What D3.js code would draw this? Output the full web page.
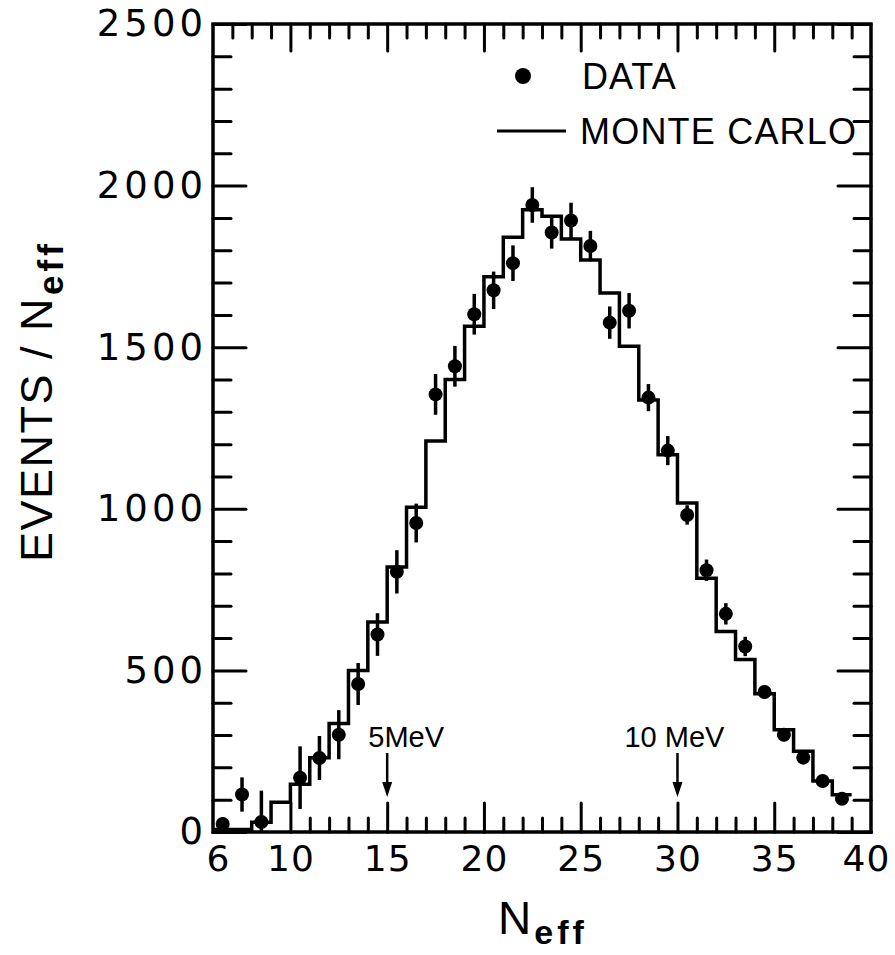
<!DOCTYPE html>
<meta charset="utf-8">

<!-- Load d3.js -->
<script src="https://d3js.org/d3.v7.min.js"></script>

<style>
  body { margin: 0; background: #fff; }
</style>

<svg id="neff_plot" width="895" height="955" style="background:#fff;"></svg>

<script>

// Monte Carlo histogram: left edge of each unit bin and its height
var mcEdges  = [6, 7, 8, 9, 10, 11, 12, 13, 14, 15, 16, 17, 18, 19, 20, 21, 22,
                23, 24, 25, 26, 27, 28, 29, 30, 31, 32, 33, 34, 35, 36, 37, 38];
var mcValues = [8, 8, 30, 92, 148, 230, 336, 500, 650, 820, 1005, 1210, 1400, 1565, 1718, 1840, 1925,
                1905, 1835, 1770, 1668, 1503, 1337, 1167, 1018, 785, 620, 534, 428, 316, 250, 158, 115];

// measured data: bin centre, events and error
var dataN      = [6.5, 7.5, 8.5, 10.5, 11.5, 12.5, 13.5, 14.5, 15.5, 16.5, 17.5, 18.5, 19.5, 20.5, 21.5, 22.5,
                  23.5, 24.5, 25.5, 26.5, 27.5, 28.5, 29.5, 30.5, 31.5, 32.5, 33.5, 34.5, 35.5, 36.5, 37.5, 38.5];
var dataValues = [25, 116, 31, 168, 229, 301, 458, 611, 805, 956, 1354, 1441, 1602, 1676, 1760, 1940,
                  1855, 1892, 1813, 1576, 1613, 1344, 1180, 981, 810, 675, 574, 433, 301, 230, 158, 103];
var dataErrors = [20, 53, 97, 97, 68, 76, 65, 66, 67, 60, 63, 63, 63, 58, 55, 55,
                  50, 55, 47, 50, 55, 42, 45, 30, 33, 33, 30, 20, 20, 15, 15, 12];

// tick labels
var xTickValues = [6, 10, 15, 20, 25, 30, 35, 40];
var yTickValues = [0, 500, 1000, 1500, 2000, 2500];

// energy marks on the N_eff axis
var markN      = [15, 30];
var markLabels = ["5MeV", "10 MeV"];

// set the dimensions and margins of the graph
var margin = {top: 24, right: 24, bottom: 123, left: 213};
var width = 895 - margin.left - margin.right,
    height = 955 - margin.top - margin.bottom;

var svg = d3.select("#neff_plot")
  .append("g")
  .attr("transform", "translate(" + margin.left + "," + margin.top + ")");

var x = d3.scaleLinear().domain([6, 40]).range([0, width]);
var y = d3.scaleLinear().domain([0, 2500]).range([height, 0]);

var numFont = "DejaVu Sans, sans-serif";
var txtFont = "Liberation Sans, Arial, sans-serif";

// minor tick positions
var xMinorTop = d3.range(7, 40).filter(function(d) { return d % 5 != 0; });
var xMinorBottom = d3.range(11, 40).filter(function(d) { return d % 5 != 0; });
var xMajorInner = [10, 15, 20, 25, 30, 35];
var yMinor = d3.range(100, 2500, 100).filter(function(d) { return d % 500 != 0; });

function styleAxis(g) {
  g.select(".domain").remove();
  g.selectAll(".tick line")
    .attr("stroke", "#000")
    .attr("stroke-width", 3)
    .attr("stroke-linecap", "round");
  g.selectAll(".tick text")
    .attr("fill", "#000")
    .attr("font-family", numFont)
    .attr("font-size", 37)
    .attr("letter-spacing", 4);
}

// left axis with labels
svg.append("g")
  .call(d3.axisLeft(y).tickValues(yTickValues).tickSize(-33).tickPadding(6).tickFormat(d3.format("d")))
  .call(styleAxis);
svg.append("g")
  .call(d3.axisLeft(y).tickValues(yMinor).tickSize(-18).tickFormat(""))
  .call(styleAxis);

// right axis, ticks only
svg.append("g")
  .attr("transform", "translate(" + width + ",0)")
  .call(d3.axisRight(y).tickValues(yTickValues).tickSize(-33).tickFormat(""))
  .call(styleAxis);
svg.append("g")
  .attr("transform", "translate(" + width + ",0)")
  .call(d3.axisRight(y).tickValues(yMinor).tickSize(-17).tickFormat(""))
  .call(styleAxis);

// bottom axis
svg.append("g")
  .attr("transform", "translate(0," + height + ")")
  .call(d3.axisBottom(x).tickValues(xMajorInner).tickSize(-29).tickFormat(""))
  .call(styleAxis);
svg.append("g")
  .attr("transform", "translate(0," + height + ")")
  .call(d3.axisBottom(x).tickValues(xMinorBottom).tickSize(-14).tickFormat(""))
  .call(styleAxis);
var xLabels = svg.append("g")
  .attr("transform", "translate(0," + height + ")")
  .call(d3.axisBottom(x).tickValues(xTickValues).tickSize(0).tickPadding(13))
  .call(styleAxis);
xLabels.selectAll(".tick text")
  .attr("font-size", 36)
  .attr("letter-spacing", 1)
  .attr("dx", function(d) { return d == 6 ? 5 : (d == 40 ? -5 : 0); });

// top axis
svg.append("g")
  .call(d3.axisTop(x).tickValues(xMajorInner).tickSize(-27).tickFormat(""))
  .call(styleAxis);
svg.append("g")
  .call(d3.axisTop(x).tickValues(xMinorTop).tickSize(-14).tickFormat(""))
  .call(styleAxis);

// frame
svg.append("rect")
  .attr("x", 0)
  .attr("y", 0)
  .attr("width", width)
  .attr("height", height)
  .attr("fill", "none")
  .attr("stroke", "#000")
  .attr("stroke-width", 3.5);

// Monte Carlo histogram
var mcPoints = mcEdges.map(function(e, i) { return [e, mcValues[i]]; });
mcPoints.push([mcEdges[mcEdges.length - 1] + 1, mcValues[mcValues.length - 1]]);

svg.append("path")
  .datum(mcPoints)
  .attr("fill", "none")
  .attr("stroke", "#000")
  .attr("stroke-width", 3.5)
  .attr("d", d3.line()
    .x(function(d) { return x(d[0]); })
    .y(function(d) { return y(d[1]); })
    .curve(d3.curveStepAfter));

// data points with error bars
var data = dataN.map(function(n, i) { return {n: n, v: dataValues[i], e: dataErrors[i]}; });

svg.selectAll(".err")
  .data(data)
  .enter()
  .append("line")
    .attr("class", "err")
    .attr("x1", function(d) { return x(d.n); })
    .attr("x2", function(d) { return x(d.n); })
    .attr("y1", function(d) { return y(Math.max(0, d.v - d.e)); })
    .attr("y2", function(d) { return y(d.v + d.e); })
    .attr("stroke", "#000")
    .attr("stroke-width", 3.5);

svg.selectAll(".pt")
  .data(data)
  .enter()
  .append("circle")
    .attr("class", "pt")
    .attr("cx", function(d) { return x(d.n); })
    .attr("cy", function(d) { return y(d.v); })
    .attr("r", 7)
    .attr("fill", "#000");

// energy marks: label and arrow
var labelShift = [19, -3];
markN.forEach(function(n, i) {
  var xm = x(n);
  svg.append("text")
    .attr("x", xm + labelShift[i])
    .attr("y", height - 85)
    .attr("text-anchor", "middle")
    .attr("font-family", txtFont)
    .attr("font-size", 29)
    .text(markLabels[i]);
  svg.append("line")
    .attr("x1", xm).attr("x2", xm)
    .attr("y1", height - 79).attr("y2", height - 46)
    .attr("stroke", "#000")
    .attr("stroke-width", 2.5);
  svg.append("path")
    .attr("d", "M" + (xm - 5) + "," + (height - 50) + "L" + (xm + 5) + "," + (height - 50) + "L" + xm + "," + (height - 35) + "Z")
    .attr("fill", "#000");
});

// legend
var legend = svg.append("g").attr("transform", "translate(" + (523 - margin.left) + "," + (76 - margin.top) + ")");
legend.append("circle").attr("cx", 0).attr("cy", 0).attr("r", 8).attr("fill", "#000");
legend.append("text")
  .attr("x", 59).attr("y", 13)
  .attr("font-family", txtFont)
  .attr("font-size", 36)
  .attr("letter-spacing", 1)
  .text("DATA");
legend.append("line")
  .attr("x1", -26).attr("x2", 43)
  .attr("y1", 55).attr("y2", 55)
  .attr("stroke", "#000")
  .attr("stroke-width", 3);
legend.append("text")
  .attr("x", 57).attr("y", 68)
  .attr("font-family", txtFont)
  .attr("font-size", 36)
  .attr("letter-spacing", 1.2)
  .text("MONTE CARLO");

// x axis title
var xTitle = svg.append("text")
  .attr("x", 498 - margin.left)
  .attr("y", 934 - margin.top)
  .attr("font-family", txtFont)
  .attr("font-size", 46);
xTitle.append("tspan").text("N");
xTitle.append("tspan")
  .attr("dy", 10)
  .attr("dx", 3)
  .attr("font-size", 34)
  .attr("font-weight", "bold")
  .attr("letter-spacing", 4)
  .text("eff");

// y axis title
var yTitle = svg.append("text")
  .attr("transform", "translate(" + (52 - margin.left) + "," + (562 - margin.top) + ") rotate(-90)")
  .attr("font-family", txtFont)
  .attr("font-size", 45)
  .attr("letter-spacing", 1.5);
yTitle.append("tspan").text("EVENTS / N");
yTitle.append("tspan")
  .attr("dy", 11)
  .attr("dx", 2)
  .attr("font-size", 35)
  .attr("font-weight", "bold")
  .attr("letter-spacing", 4)
  .text("eff");

</script>
